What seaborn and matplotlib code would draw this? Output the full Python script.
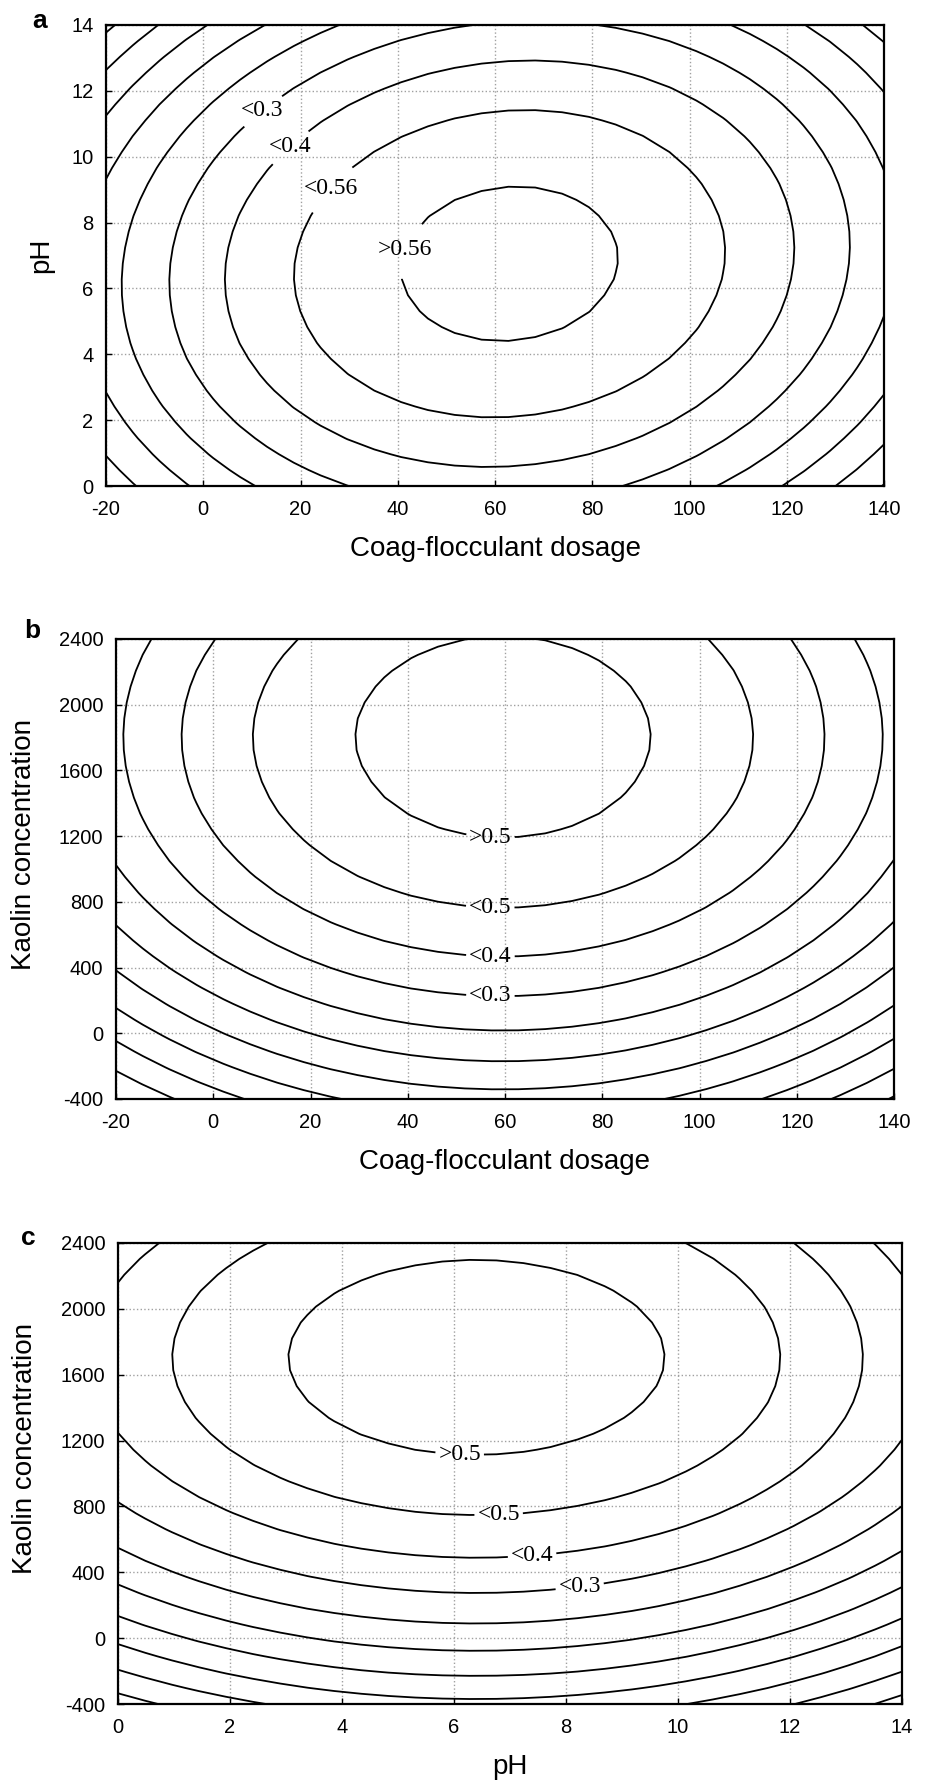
import numpy as np
import matplotlib
matplotlib.use("Agg")
import matplotlib.pyplot as plt
import seaborn as sns

sns.set_theme(style="white")
plt.rcParams["font.family"] = ["Liberation Sans", "DejaVu Sans"]
plt.rcParams["axes.unicode_minus"] = False
plt.rcParams["contour.negative_linestyle"] = "solid"

# ---- axis ranges and ticks ----
dosage_lim = [-20, 140]
ph_lim = [0, 14]
kaolin_lim = [-400, 2400]
dosage_ticks = [-20, 0, 20, 40, 60, 80, 100, 120, 140]
ph_ticks = [0, 2, 4, 6, 8, 10, 12, 14]
kaolin_ticks = [-400, 0, 400, 800, 1200, 1600, 2000, 2400]

# ---- fitted second-order response surfaces ----
# removal = peak - cx*(x-x0)^2 - cy*(y-y0)^2 - cxy*(x-x0)*(y-y0)
peak_a = 0.634
optimum_a = [63.0, 6.75]          # dosage, pH
curv_a = [6.85e-5, 6.17e-3]
inter_a = -9.9e-5

peak_b = 0.6535
optimum_b = [59.6, 1804.0]        # dosage, kaolin
curv_b = [5.79e-5, 1.419e-7]
inter_b = 0.0

peak_c = 0.6623
optimum_c = [6.4, 1705.0]         # pH, kaolin
curv_c = [5.5e-3, 1.77e-7]
inter_c = 0.0

# ---- contour levels and their labels ----
plain_levels = [-0.4, -0.3, -0.2, -0.1, 0.0, 0.1, 0.2]
label_levels = [0.3, 0.4, 0.5, 0.6]
labels_a = ["<0.3", "<0.4", "<0.56", ">0.56"]
labels_bc = ["<0.3", "<0.4", "<0.5", ">0.5"]
label_pos_a = [(12.2, 11.4), (17.8, 10.3), (26.5, 9.0), (43.7, 7.1)]
label_pos_b = [(57.0, 230.0), (57.0, 470.0), (57.0, 780.0), (57.0, 1190.0)]
label_pos_c = [(8.25, 300.0), (7.4, 480.0), (6.8, 735.0), (6.1, 1112.0)]


def surface(xlim, ylim, peak, opt, curv, inter, n=30):
    x = np.linspace(xlim[0], xlim[1], n)
    y = np.linspace(ylim[0], ylim[1], n)
    X, Y = np.meshgrid(x, y)
    dx, dy = X - opt[0], Y - opt[1]
    Z = peak - curv[0] * dx ** 2 - curv[1] * dy ** 2 - inter * dx * dy
    return X, Y, Z


def panel(ax, xlim, ylim, xticks, yticks, peak, opt, curv, inter,
          lab_text, lab_pos, xlabel, ylabel, letter, ylab_xy, letter_xy):
    X, Y, Z = surface(xlim, ylim, peak, opt, curv, inter)
    ax.contour(X, Y, Z, levels=plain_levels, colors="black", linewidths=1.3,
               linestyles="solid")
    cs = ax.contour(X, Y, Z, levels=label_levels, colors="black",
                    linewidths=1.3, linestyles="solid")
    fmt = {lv: txt for lv, txt in zip(label_levels, lab_text)}
    with plt.rc_context({"font.family": ["Liberation Serif"]}):
        texts = ax.clabel(cs, fmt=fmt, inline=True, inline_spacing=3,
                          fontsize=17, manual=lab_pos)
    for t in texts:
        t.set_rotation(0)
        t.set_color("black")

    ax.set_xlim(xlim)
    ax.set_ylim(ylim)
    ax.set_xticks(xticks)
    ax.set_yticks(yticks)
    ax.grid(True, linestyle=":", color="#a0a0a0", linewidth=1.0)
    ax.set_axisbelow(True)
    ax.tick_params(direction="in", length=4, width=1.0, colors="black",
                   labelsize=14.5, bottom=True, left=True)
    ax.tick_params(axis="x", pad=10)
    ax.tick_params(axis="y", pad=9)
    for s in ax.spines.values():
        s.set_color("black")
        s.set_linewidth(1.6)
    ax.set_xlabel(xlabel, fontsize=20, color="black")
    ax.set_ylabel(ylabel, fontsize=20, color="black")
    ax.xaxis.set_label_coords(0.5, -0.137)
    ax.xaxis.label.set_va("center")
    ax.yaxis.set_label_coords(*ylab_xy)
    ax.yaxis.label.set_va("center")
    ax.text(letter_xy[0], letter_xy[1], letter, transform=ax.transAxes,
            fontsize=19, fontweight="bold", ha="center", va="center",
            color="black")


fig = plt.figure(figsize=(9.25, 17.89), dpi=100)
ax_a = fig.add_axes([106 / 925, 1 - 486 / 1789, 778 / 925, 461 / 1789])
ax_b = fig.add_axes([116 / 925, 1 - 1099 / 1789, 778 / 925, 460 / 1789])
ax_c = fig.add_axes([118 / 925, 1 - 1704 / 1789, 784 / 925, 461 / 1789])

panel(ax_a, dosage_lim, ph_lim, dosage_ticks, ph_ticks, peak_a, optimum_a,
      curv_a, inter_a, labels_a, label_pos_a, "Coag-flocculant dosage", "pH",
      "a", (-0.083, 0.5), (-0.085, 1.009))
panel(ax_b, dosage_lim, kaolin_lim, dosage_ticks, kaolin_ticks, peak_b,
      optimum_b, curv_b, inter_b, labels_bc, label_pos_b,
      "Coag-flocculant dosage", "Kaolin concentration", "b",
      (-0.118, 0.554), (-0.107, 1.017))
panel(ax_c, ph_lim, kaolin_lim, ph_ticks, kaolin_ticks, peak_c, optimum_c,
      curv_c, inter_c, labels_bc, label_pos_c, "pH", "Kaolin concentration",
      "c", (-0.118, 0.554), (-0.114, 1.011))

fig.savefig("out.png", dpi=100, facecolor="white")
